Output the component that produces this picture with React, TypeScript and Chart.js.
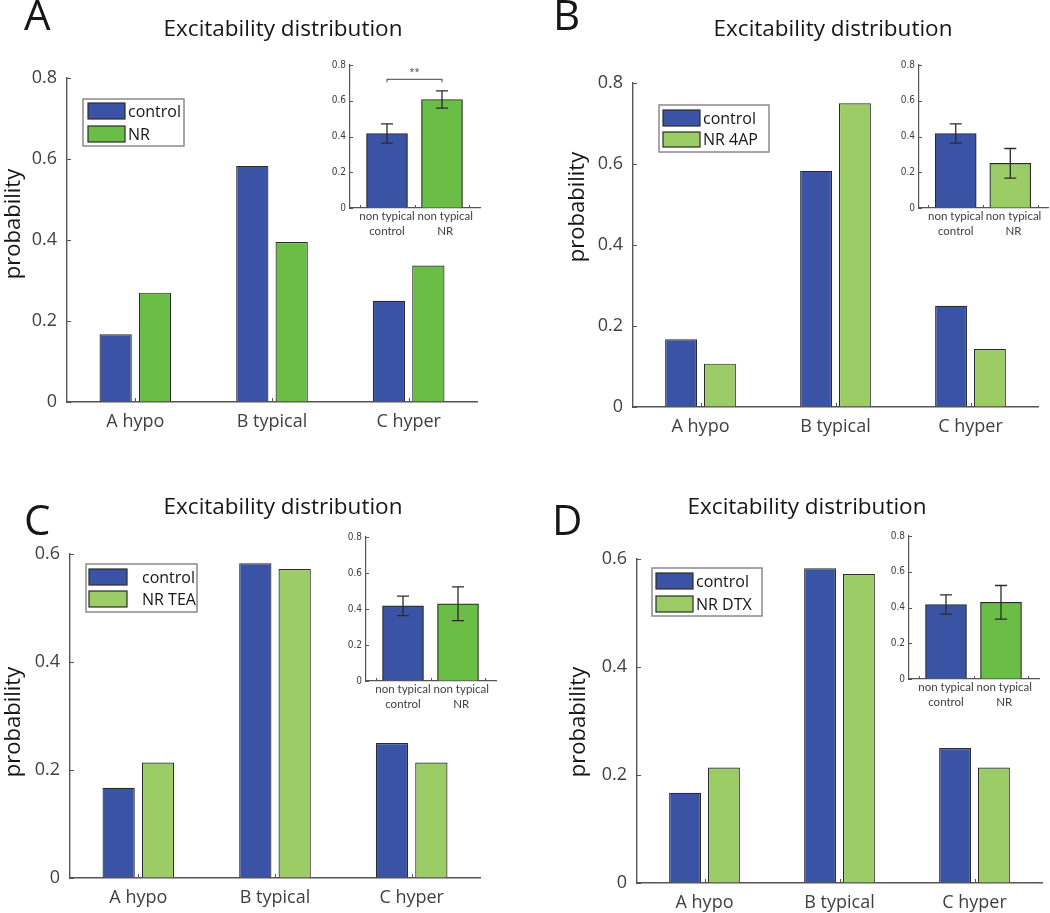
import React, { useEffect, useRef } from 'react';
import { Chart, registerables } from 'chart.js';

Chart.register(...registerables);

// ---------- data ----------
const categories = ['A hypo', 'B typical', 'C hyper'];
const yTicksTop = [0, 0.2, 0.4, 0.6, 0.8];
const yTicksBottom = [0, 0.2, 0.4, 0.6];
const insetYTicks = [0, 0.2, 0.4, 0.6, 0.8];
const insetXTickMarks = [0.5, 1.5, 2.5];

const controlA = [0.167, 0.583, 0.25];
const nrA = [0.27, 0.395, 0.337];
const controlB = [0.167, 0.583, 0.25];
const nr4AP = [0.107, 0.75, 0.143];
const controlC = [0.167, 0.583, 0.25];
const nrTEA = [0.214, 0.572, 0.214];
const controlD = [0.167, 0.583, 0.25];
const nrDTX = [0.214, 0.572, 0.214];

const legendA = ['control', 'NR'];
const legendB = ['control', 'NR 4AP'];
const legendC = ['control', 'NR TEA'];
const legendD = ['control', 'NR DTX'];

const insetLabels = [['non typical', 'control'], ['non typical', 'NR']];
const insetMeanA = [0.417, 0.607];
const insetErrA = [0.054, 0.048];
const insetMeanB = [0.417, 0.25];
const insetErrB = [0.054, 0.083];
const insetMeanC = [0.417, 0.429];
const insetErrC = [0.054, 0.094];
const insetMeanD = [0.417, 0.429];
const insetErrD = [0.054, 0.094];

// ---------- style ----------
const BLUE = '#3a53a4';
const GREEN = '#6abd45';
const LIGHT = '#9ccc65';
const EDGE = '#2b2b2b';
const AXIS = '#555555';
const TXT = '#404040';
const DARK = '#161616';
const FONT = "'Open Sans', 'Liberation Sans', sans-serif";
const SMALL = "Lato, 'Open Sans', sans-serif";
const NARROW = "'Liberation Sans Narrow', 'DejaVu Sans Condensed', 'Open Sans', sans-serif";

const decorPlugin = {
  id: 'decor',
  afterDraw(chart: any, _args: any, o: any) {
    const ctx = chart.ctx;
    const [ox, oy] = o.origin;
    const xs = chart.scales.x;
    const ys = chart.scales.y;
    const a = chart.chartArea;
    ctx.save();
    // inward tick marks
    ctx.strokeStyle = AXIS;
    ctx.lineWidth = 1;
    ctx.beginPath();
    for (const v of o.yTickValues) {
      const py = Math.round(ys.getPixelForValue(v)) + 0.5;
      ctx.moveTo(a.left, py);
      ctx.lineTo(a.left + o.tickLen, py);
    }
    for (const v of o.xTickValues) {
      const px = Math.round(xs.getPixelForValue(v)) + 0.5;
      ctx.moveTo(px, a.bottom);
      ctx.lineTo(px, a.bottom - o.tickLen);
    }
    ctx.stroke();

    // error bars
    if (o.errors) {
      const meta = chart.getDatasetMeta(0);
      const ds = chart.data.datasets[0];
      ctx.strokeStyle = EDGE;
      ctx.lineWidth = 1.3;
      ctx.beginPath();
      meta.data.forEach((el: any, i: number) => {
        const m = ds.data[i].y;
        const e = o.errors[i];
        const top = ys.getPixelForValue(m + e);
        const bot = ys.getPixelForValue(m - e);
        ctx.moveTo(el.x, top);
        ctx.lineTo(el.x, bot);
        ctx.moveTo(el.x - o.capHalf, top);
        ctx.lineTo(el.x + o.capHalf, top);
        ctx.moveTo(el.x - o.capHalf, bot);
        ctx.lineTo(el.x + o.capHalf, bot);
      });
      ctx.stroke();
    }

    // significance bracket
    if (o.bracket) {
      const b = o.bracket;
      const x1 = xs.getPixelForValue(b.from);
      const x2 = xs.getPixelForValue(b.to);
      const y = ys.getPixelForValue(b.y);
      ctx.strokeStyle = '#666';
      ctx.lineWidth = 1.2;
      ctx.beginPath();
      ctx.moveTo(x1, y + 3);
      ctx.lineTo(x1, y);
      ctx.lineTo(x2, y);
      ctx.lineTo(x2, y + 3);
      ctx.stroke();
      ctx.fillStyle = '#444';
      ctx.font = `9px ${FONT}`;
      ctx.textAlign = 'center';
      ctx.textBaseline = 'middle';
      ctx.fillText(b.label, (x1 + x2) / 2, ys.getPixelForValue(b.labelY));
    }

    // legend
    if (o.legend) {
      const L = o.legend;
      const [bx1, by1, bx2, by2] = L.box;
      ctx.fillStyle = '#ffffff';
      ctx.fillRect(bx1 - ox, by1 - oy, bx2 - bx1, by2 - by1);
      ctx.strokeStyle = '#8a8a8a';
      ctx.lineWidth = 1.5;
      ctx.strokeRect(bx1 - ox, by1 - oy, bx2 - bx1, by2 - by1);
      chart.data.datasets.forEach((ds: any, i: number) => {
        const [t, bt] = L.rows[i];
        ctx.fillStyle = ds.backgroundColor;
        ctx.fillRect(L.sw[0] - ox, t - oy, L.sw[1] - L.sw[0], bt - t);
        ctx.strokeStyle = EDGE;
        ctx.lineWidth = 1.2;
        ctx.strokeRect(L.sw[0] - ox, t - oy, L.sw[1] - L.sw[0], bt - t);
        ctx.fillStyle = DARK;
        ctx.font = `16px ${FONT}`;
        ctx.textAlign = 'left';
        ctx.textBaseline = 'middle';
        ctx.fillText(ds.label, L.textX - ox, (t + bt) / 2 - oy + 1);
      });
    }

    // free texts (panel letter, title, y label)
    for (const t of o.texts || []) {
      ctx.save();
      ctx.fillStyle = t.color || DARK;
      ctx.font = `${t.weight || 400} ${t.size}px ${FONT}`;
      ctx.textAlign = t.align || 'center';
      ctx.textBaseline = t.baseline || 'alphabetic';
      ctx.translate(t.x - ox, t.y - oy);
      if (t.rotate) ctx.rotate(t.rotate);
      ctx.fillText(t.text, 0, 0);
      ctx.restore();
    }
    ctx.restore();
  },
};

type Box = { x: number; y: number; w: number; h: number };
type Area = { left: number; top: number; right: number; bottom: number };

function mainConfig(p: any) {
  const YW = 50;
  const XH = 30;
  const c: Box = p.canvas;
  const area: Area = p.area;
  return {
    type: 'bar',
    data: {
      labels: categories,
      datasets: [
        {
          label: p.labels[0],
          data: p.control,
          backgroundColor: BLUE,
          borderColor: EDGE,
          borderWidth: 1.2,
          barPercentage: 0.82,
          categoryPercentage: 0.576,
        },
        {
          label: p.labels[1],
          data: p.nr,
          backgroundColor: p.nrColor,
          borderColor: EDGE,
          borderWidth: 1.2,
          barPercentage: 0.82,
          categoryPercentage: 0.576,
        },
      ],
    },
    options: {
      responsive: false,
      animation: false,
      events: [],
      layout: {
        padding: {
          left: area.left - c.x - YW,
          top: area.top - c.y,
          right: c.x + c.w - area.right,
          bottom: c.y + c.h - area.bottom - XH,
        },
      },
      scales: {
        x: {
          type: 'category',
          offset: true,
          grid: { display: true, drawOnChartArea: false, drawTicks: false },
          border: { display: true, color: AXIS, width: 1.4 },
          ticks: { font: { family: FONT, size: 18 }, color: TXT, padding: 9, maxRotation: 0, autoSkip: false },
          afterFit: (s: any) => { s.height = XH; },
        },
        y: {
          type: 'linear',
          min: 0,
          max: p.yMax,
          afterBuildTicks: (s: any) => { s.ticks = p.yTicks.map((v: number) => ({ value: v })); },
          grid: { display: true, drawOnChartArea: false, drawTicks: false },
          border: { display: true, color: AXIS, width: 1.4 },
          ticks: { font: { family: FONT, size: 18 }, color: TXT, padding: 10, callback: (v: any) => String(v) },
          afterFit: (s: any) => { s.width = YW; },
        },
      },
      plugins: {
        legend: { display: false },
        tooltip: { enabled: false },
        title: { display: false },
        decor: {
          origin: [c.x, c.y],
          tickLen: 4,
          yTickValues: p.yTicks,
          xTickValues: [0, 1, 2],
          legend: p.legend,
          texts: [
            { text: p.letter.text, x: p.letter.x, y: p.letter.y, size: 42, align: 'left' },
            { text: 'Excitability distribution', x: p.title.x, y: p.title.y, size: 22.5 },
            { text: 'probability', x: p.ylab.x, y: p.ylab.y, size: 22, baseline: 'middle', rotate: -Math.PI / 2 },
          ],
        },
      },
    },
    plugins: [decorPlugin],
  };
}

function insetConfig(p: any) {
  const YW = 30;
  const XH = 40;
  const c: Box = p.canvas;
  const area: Area = p.area;
  return {
    type: 'bar',
    data: {
      datasets: [
        {
          data: p.mean.map((m: number, i: number) => ({ x: i + 1, y: m })),
          backgroundColor: [BLUE, p.nrColor],
          borderColor: EDGE,
          borderWidth: 1.2,
          barThickness: 41,
        },
      ],
    },
    options: {
      responsive: false,
      animation: false,
      events: [],
      layout: {
        padding: {
          left: area.left - c.x - YW,
          top: area.top - c.y,
          right: c.x + c.w - area.right,
          bottom: c.y + c.h - area.bottom - XH,
        },
      },
      scales: {
        x: {
          type: 'linear',
          offset: false,
          min: 0.327,
          max: 2.691,
          afterBuildTicks: (s: any) => { s.ticks = [{ value: 1 }, { value: 2.06 }]; },
          grid: { display: true, drawOnChartArea: false, drawTicks: false, offset: false },
          border: { display: true, color: AXIS, width: 1.2 },
          ticks: {
            font: { family: SMALL, size: 11.5, lineHeight: 1.3 },
            color: TXT,
            padding: 1,
            maxRotation: 0,
            autoSkip: false,
            callback: (v: any) => insetLabels[Math.round(v) - 1],
          },
          afterFit: (s: any) => { s.height = XH; },
        },
        y: {
          type: 'linear',
          min: 0,
          max: 0.8,
          afterBuildTicks: (s: any) => { s.ticks = insetYTicks.map((v) => ({ value: v })); },
          grid: { display: true, drawOnChartArea: false, drawTicks: false },
          border: { display: true, color: AXIS, width: 1.2 },
          ticks: { font: { family: NARROW, size: 10 }, color: TXT, padding: 4, callback: (v: any) => String(v) },
          afterFit: (s: any) => { s.width = YW; },
        },
      },
      plugins: {
        legend: { display: false },
        tooltip: { enabled: false },
        title: { display: false },
        decor: {
          origin: [c.x, c.y],
          tickLen: 3,
          yTickValues: insetYTicks,
          xTickValues: insetXTickMarks,
          errors: p.err,
          capHalf: 6,
          bracket: p.bracket,
        },
      },
    },
    plugins: [decorPlugin],
  };
}

const mainPanels = [
  {
    canvas: { x: 0, y: 0, w: 525, h: 456 },
    area: { left: 67, top: 78, right: 477, bottom: 402 },
    yMax: 0.8, yTicks: yTicksTop, control: controlA, nr: nrA, nrColor: GREEN, labels: legendA,
    letter: { text: 'A', x: 24, y: 30 }, title: { x: 283, y: 36 }, ylab: { x: 14, y: 224 },
    legend: { box: [83, 99, 184, 146], sw: [88, 125], rows: [[103, 119], [126, 142]], textX: 128 },
  },
  {
    canvas: { x: 525, y: 0, w: 525, h: 456 },
    area: { left: 633, top: 83, right: 1038, bottom: 407 },
    yMax: 0.8, yTicks: yTicksTop, control: controlB, nr: nr4AP, nrColor: LIGHT, labels: legendB,
    letter: { text: 'B', x: 553, y: 30 }, title: { x: 833, y: 36 }, ylab: { x: 578, y: 207 },
    legend: { box: [659, 105, 769, 152], sw: [663, 700], rows: [[110, 126], [132, 147]], textX: 703 },
  },
  {
    canvas: { x: 0, y: 456, w: 525, h: 457 },
    area: { left: 70, top: 554, right: 480, bottom: 878 },
    yMax: 0.6, yTicks: yTicksBottom, control: controlC, nr: nrTEA, nrColor: LIGHT, labels: legendC,
    letter: { text: 'C', x: 24, y: 535 }, title: { x: 283, y: 514 }, ylab: { x: 14, y: 722 },
    legend: { box: [86, 564, 197, 612], sw: [89, 127], rows: [[569, 585], [591, 607]], textX: 142 },
  },
  {
    canvas: { x: 525, y: 456, w: 525, h: 457 },
    area: { left: 637, top: 559, right: 1042, bottom: 883 },
    yMax: 0.6, yTicks: yTicksBottom, control: controlD, nr: nrDTX, nrColor: LIGHT, labels: legendD,
    letter: { text: 'D', x: 552, y: 535 }, title: { x: 807, y: 514 }, ylab: { x: 579, y: 722 },
    legend: { box: [652, 568, 762, 616], sw: [656, 693], rows: [[573, 589], [596, 612]], textX: 696 },
  },
];

const insetPanels = [
  {
    canvas: { x: 315, y: 50, w: 185, h: 200 },
    area: { left: 350, top: 65, right: 480, bottom: 208 },
    mean: insetMeanA, err: insetErrA, nrColor: GREEN,
    bracket: { from: 1, to: 2, y: 0.72, labelY: 0.76, label: '**' },
  },
  {
    canvas: { x: 884, y: 50, w: 166, h: 200 },
    area: { left: 919, top: 65, right: 1048, bottom: 208 },
    mean: insetMeanB, err: insetErrB, nrColor: LIGHT,
  },
  {
    canvas: { x: 331, y: 522, w: 185, h: 200 },
    area: { left: 366, top: 537, right: 496, bottom: 681 },
    mean: insetMeanC, err: insetErrC, nrColor: GREEN,
  },
  {
    canvas: { x: 874, y: 521, w: 176, h: 200 },
    area: { left: 909, top: 536, right: 1039, bottom: 679 },
    mean: insetMeanD, err: insetErrD, nrColor: GREEN,
  },
];

function ChartCanvas({ box, config }: { box: Box; config: any }) {
  const ref = useRef<HTMLCanvasElement>(null);
  useEffect(() => {
    const chart = new Chart(ref.current as HTMLCanvasElement, config);
    return () => chart.destroy();
  }, []);
  return (
    <canvas
      ref={ref}
      width={box.w}
      height={box.h}
      style={{ position: 'absolute', left: box.x, top: box.y, width: box.w, height: box.h }}
    />
  );
}

export default function App() {
  useEffect(() => {
    document.body.style.margin = '0';
  }, []);
  return (
    <div style={{ position: 'absolute', left: 0, top: 0, width: 1050, height: 913, background: '#fff', overflow: 'hidden' }}>
      {mainPanels.map((p, i) => (
        <ChartCanvas key={'m' + i} box={p.canvas} config={mainConfig(p)} />
      ))}
      {insetPanels.map((p, i) => (
        <ChartCanvas key={'i' + i} box={p.canvas} config={insetConfig(p)} />
      ))}
    </div>
  );
}
